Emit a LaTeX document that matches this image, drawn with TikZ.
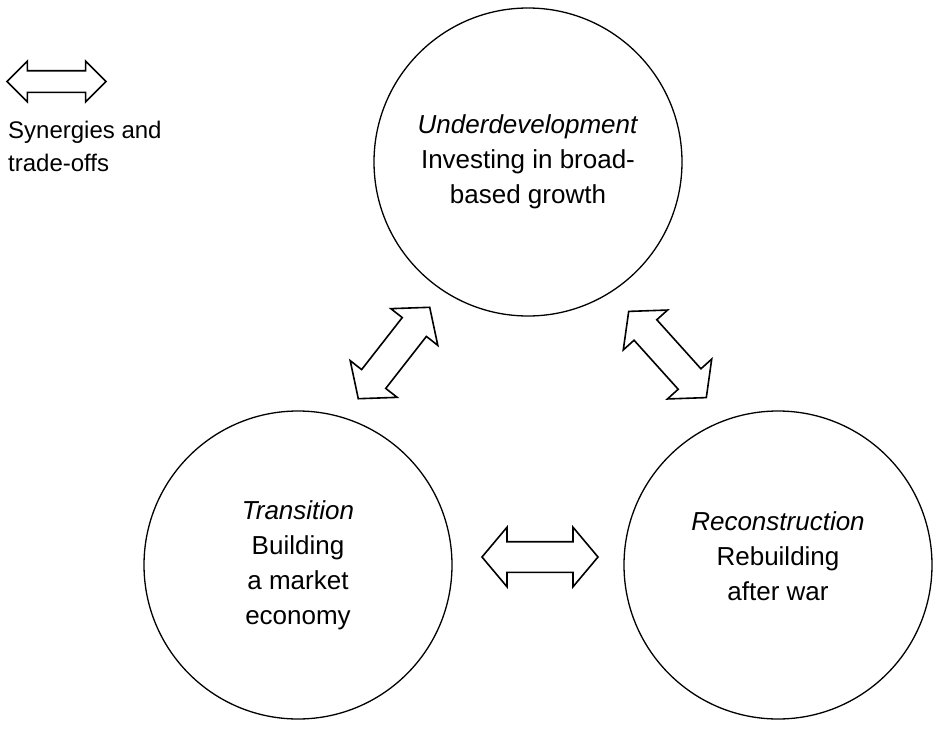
\documentclass[tikz,border=0pt]{standalone}
\usepackage{fontspec}
\setmainfont{Liberation Sans}
\usepackage{tikz}
\usetikzlibrary{shapes,arrows}
\tikzset{phase/.style={circle,draw=black,line width=1.3pt,minimum size=308pt,inner sep=0pt,align=center,font=\fontsize{26}{35}\selectfont}}
\tikzset{twoway/.style={double arrow,draw=black,line width=1.6pt,inner xsep=0pt,inner ysep=14.5pt,minimum height=116pt,minimum width=58pt,double arrow head extend=14.5pt,double arrow tip angle=100}}

\begin{document}
\begin{tikzpicture}[x=1pt,y=-1pt]
    \useasboundingbox (0,0) rectangle (938,731);
    \node[phase] (under) at (528,162) {\textit{Underdevelopment}\\Investing in broad-\\based growth};
    \node[phase] (trans) at (298,565) {\textit{Transition}\\Building\\a market\\economy};
    \node[phase,label={[align=center,font=\fontsize{26}{35}\selectfont,yshift=9pt]center:{\textit{Reconstruction}\\Rebuilding\\after war}}] (recon) at (778,565) {};
    \node[twoway] (tu) at (394,353) [rotate=52] {};
    \node[twoway] (ur) at (667.5,354.5) [rotate=-48] {};
    \node[twoway] (tr) at (540,557) {};
    \node[twoway,inner ysep=10pt,minimum height=99pt,minimum width=39pt,double arrow head extend=9.5pt,double arrow tip angle=90] (key) at (56.5,81.5) {};
    \node[anchor=west,align=left,inner sep=0pt,font=\fontsize{24}{33}\selectfont] (keytext) at (8,146.5) {Synergies and\\trade-offs};
\end{tikzpicture}
\end{document}
